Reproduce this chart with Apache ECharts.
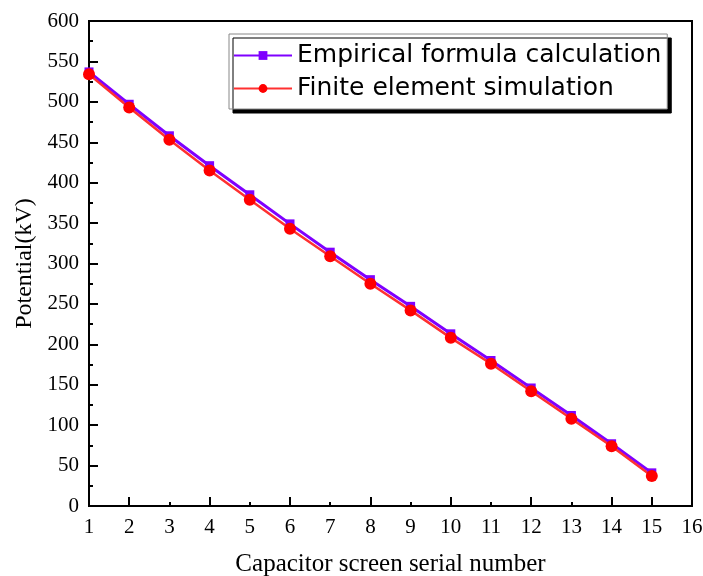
<!DOCTYPE html>
<html>
<head>
<meta charset="utf-8">
<script src="https://cdn.jsdelivr.net/npm/echarts@6/dist/echarts.min.js"></script>
<style>
html,body{margin:0;padding:0;background:#ffffff;}
#chart{width:703px;height:576px;}
</style>
</head>
<body>
<div id="chart"></div>
<script>
var serialNumbers = [1, 2, 3, 4, 5, 6, 7, 8, 9, 10, 11, 12, 13, 14, 15];
var empiricalValues = [537, 497, 458, 421, 385, 349, 314, 280, 247, 213, 180, 146, 112, 77, 41];
var finiteValues = [534, 493, 453, 415, 379, 343, 309, 275, 242, 208, 176, 142, 108, 74, 37];
var seriesNames = ['Empirical formula calculation', 'Finite element simulation'];
var xMajorTicks = [2, 4, 6, 8, 10, 12, 14, 15];
var xTitle = 'Capacitor screen serial number';
var yTitle = 'Potential(kV)';

function pairs(xs, ys) { return xs.map(function (x, i) { return [x, ys[i]]; }); }

var serif = '"Liberation Serif", "Times New Roman", serif';
var chart = echarts.init(document.getElementById('chart'), null, {renderer: 'canvas'});
chart.setOption({
  backgroundColor: '#ffffff',
  animation: false,
  grid: {left: 89, right: 11, top: 21, bottom: 70, containLabel: false, outerBoundsMode: 'none',
         show: true, borderColor: '#000', borderWidth: 2, backgroundColor: 'transparent'},
  legend: {
    orient: 'vertical', left: 229, top: 34,
    padding: [8, 6, 7, 4], itemGap: 6,
    itemWidth: 58, itemHeight: 11,
    backgroundColor: '#ffffff', borderColor: '#888', borderWidth: 1,
    shadowColor: '#000', shadowBlur: 0, shadowOffsetX: 4, shadowOffsetY: 4,
    textStyle: {fontFamily: '"DejaVu Sans", Verdana, sans-serif', fontSize: 25, color: '#000', lineHeight: 27},
    data: seriesNames
  },
  xAxis: [{
    type: 'value', min: 1, max: 16, interval: 1,
    name: xTitle, nameLocation: 'middle', nameGap: 46,
    nameTextStyle: {fontFamily: serif, fontSize: 25, color: '#000'},
    axisLine: {show: true, lineStyle: {color: '#000', width: 2}},
    axisTick: {show: true, inside: true, length: 4, lineStyle: {color: '#000', width: 2}},
    axisLabel: {fontFamily: serif, fontSize: 21, color: '#000', margin: 11},
    splitLine: {show: false}
  }, {
    type: 'value', min: 1, max: 16, interval: 1, position: 'bottom', gridIndex: 0,
    axisLine: {show: false},
    axisTick: {show: true, inside: true, length: 9, customValues: xMajorTicks, lineStyle: {color: '#000', width: 2}},
    axisLabel: {show: false},
    splitLine: {show: false}
  }],
  yAxis: {
    type: 'value', min: 0, max: 600, interval: 50,
    name: yTitle, nameLocation: 'middle', nameGap: 45, nameRotate: 90,
    nameTextStyle: {fontFamily: serif, fontSize: 24, color: '#000'},
    axisLine: {show: true, lineStyle: {color: '#000', width: 2}},
    axisTick: {show: true, inside: true, length: 9, lineStyle: {color: '#000', width: 2}},
    minorTick: {show: true, splitNumber: 2, length: 4, lineStyle: {color: '#000', width: 2}},
    axisLabel: {fontFamily: serif, fontSize: 21, color: '#000', margin: 10},
    splitLine: {show: false}
  },
  series: [{
    name: seriesNames[0], type: 'line', xAxisIndex: 0,
    data: pairs(serialNumbers, empiricalValues),
    symbol: 'rect', symbolSize: 9,
    lineStyle: {color: '#7f00ff', width: 3},
    itemStyle: {color: '#7f00ff'}
  }, {
    name: seriesNames[1], type: 'line', xAxisIndex: 0,
    data: pairs(serialNumbers, finiteValues),
    symbol: 'circle', symbolSize: 12,
    lineStyle: {color: '#ff3030', width: 2.5},
    itemStyle: {color: '#ff0000'}
  }]
});
</script>
</body>
</html>
